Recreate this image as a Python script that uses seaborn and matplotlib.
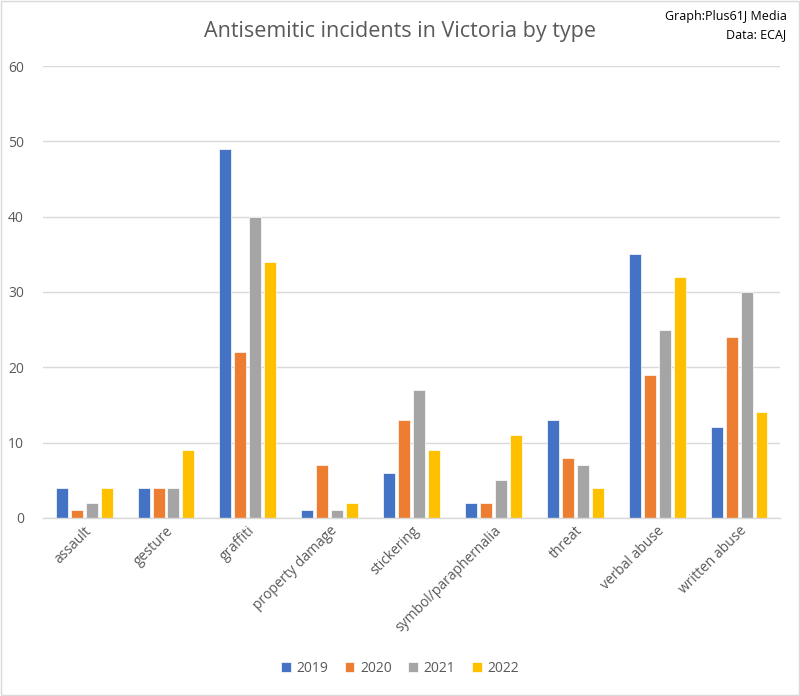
import matplotlib
matplotlib.use("Agg")
import matplotlib.pyplot as plt
import seaborn as sns
import pandas as pd
from matplotlib.patches import Rectangle

categories = ["assault", "gesture", "graffiti", "property damage", "stickering",
              "symbol/paraphernalia", "threat", "verbal abuse", "written abuse"]
years = ["2019", "2020", "2021", "2022"]
v2019 = [4, 4, 49, 1, 6, 2, 13, 35, 12]
v2020 = [1, 4, 22, 7, 13, 2, 8, 19, 24]
v2021 = [2, 4, 40, 1, 17, 5, 7, 25, 30]
v2022 = [4, 9, 34, 2, 9, 11, 4, 32, 14]
colors = ["#4472C4", "#ED7D31", "#A5A5A5", "#FFC000"]

rows = []
for y, vals in zip(years, [v2019, v2020, v2021, v2022]):
    for c, v in zip(categories, vals):
        rows.append({"type": c, "year": y, "count": v})
df = pd.DataFrame(rows)

sns.set_theme(style="white")
plt.rcParams['font.family'] = ['Open Sans', 'DejaVu Sans']
txt = "#595959"

fig = plt.figure(figsize=(8, 6.96), dpi=100)
ax = fig.add_axes([0.054, 0.256, 0.921, 0.649])
sns.barplot(data=df, x="type", y="count", hue="year", order=categories,
            hue_order=years, palette=colors, width=0.73, gap=0.2,
            saturation=1, edgecolor="white", linewidth=0.5, ax=ax, legend=True)

ax.set_ylim(0, 60)
ax.set_yticks(range(0, 61, 10))
ax.set_xlim(-0.5, len(categories) - 0.5)
ax.yaxis.grid(True, color="#D9D9D9", linewidth=1)
ax.set_axisbelow(True)
for s in ["left", "right", "top"]:
    ax.spines[s].set_visible(False)
ax.spines["bottom"].set_color("#D9D9D9")
ax.spines["bottom"].set_linewidth(1)
ax.set_xlabel("")
ax.set_ylabel("")
ax.tick_params(axis="y", colors=txt, labelsize=10, length=0, pad=14)
ax.tick_params(axis="x", colors=txt, labelsize=10, length=0, pad=4)
plt.setp(ax.get_xticklabels(), rotation=45, ha="right", rotation_mode="anchor")

handles, labels = ax.get_legend_handles_labels()
ax.legend_.remove()
fig.legend(handles, labels, loc="center", bbox_to_anchor=(0.5, 0.04), ncol=4,
           frameon=False, fontsize=10, labelcolor=txt, handlelength=0.7,
           handleheight=0.7, handletextpad=0.4, columnspacing=1.2)

fig.text(0.5, 0.955, "Antisemitic incidents in Victoria by type", ha="center",
         va="center", fontsize=15.5, color=txt)
fig.text(0.983, 0.976, "Graph:Plus61J Media", ha="right", va="center",
         fontsize=9, color="black")
fig.text(0.983, 0.950, "Data: ECAJ", ha="right", va="center",
         fontsize=9, color="black")

fig.patches.append(Rectangle((0.001, 0.001), 0.998, 0.998, transform=fig.transFigure,
                             fill=False, edgecolor="#D9D9D9", linewidth=1))

fig.savefig("out.png", dpi=100)
